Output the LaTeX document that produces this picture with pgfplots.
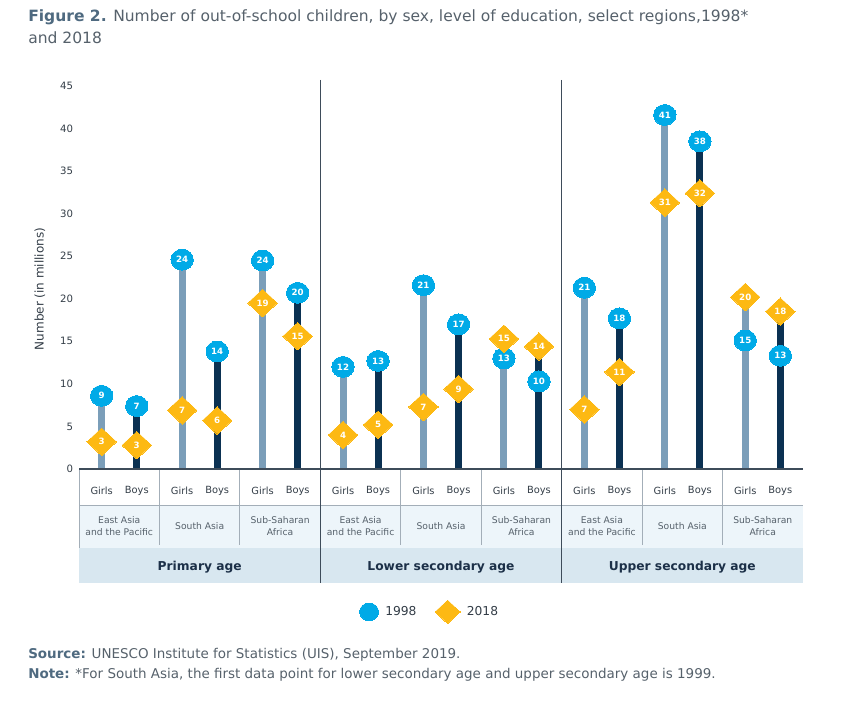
\documentclass[border=0pt]{standalone}
\usepackage{pgfplots}
\usepackage{pgfplotstable}
\pgfplotsset{compat=1.18}
\usepackage{fontspec}
\setmainfont{DejaVu Sans}
\definecolor{girlc}{HTML}{7B9EB9}
\definecolor{boyc}{HTML}{0B3152}
\definecolor{c98}{HTML}{00AAE7}
\definecolor{c18}{HTML}{FDB913}
\definecolor{rowb}{HTML}{EDF5FA}
\definecolor{rowc}{HTML}{D8E7F0}
\definecolor{sepc}{HTML}{3E4C5A}
\definecolor{lightsep}{HTML}{A3AEB8}
\definecolor{titlec}{HTML}{4F6A80}
\definecolor{textc}{HTML}{56616B}
\definecolor{tickc}{HTML}{333D47}
\definecolor{levelc}{HTML}{1C3048}

\pgfplotstableread{
x v98 l98
-0.218 8.6 9
0.218 7.4 7
0.782 24.6 24
1.218 13.8 14
1.782 24.5 24
2.218 20.7 20
2.782 12.0 12
3.218 12.7 13
3.782 21.6 21
4.218 17.0 17
4.782 13.0 13
5.218 10.3 10
5.782 21.3 21
6.218 17.7 18
6.782 41.6 41
7.218 38.5 38
7.782 15.1 15
8.218 13.3 13
}\dataA

\pgfplotstableread{
x v18 l18
-0.218 3.2 3
0.218 2.8 3
0.782 6.9 7
1.218 5.7 6
1.782 19.5 19
2.218 15.6 15
2.782 4.0 4
3.218 5.2 5
3.782 7.3 7
4.218 9.4 9
4.782 15.3 15
5.218 14.4 14
5.782 7.0 7
6.218 11.4 11
6.782 31.3 31
7.218 32.4 32
7.782 20.2 20
8.218 18.5 18
}\dataB

\pgfplotstableread{
x top
-0.218 8.6
0.782 24.6
1.782 24.5
2.782 12.0
3.782 21.6
4.782 15.3
5.782 21.3
6.782 41.6
7.782 20.2
}\girlstems

\pgfplotstableread{
x top
0.218 7.4
1.218 13.8
2.218 20.7
3.218 12.7
4.218 17.0
5.218 14.4
6.218 17.7
7.218 38.5
8.218 18.5
}\boystems

\begin{document}
\begin{tikzpicture}[x=0.75pt,y=0.75pt]
\path[use as bounding box] (0,0) rectangle (863,719);
% table backgrounds
\fill[rowb] (79,214) rectangle (803,171);
\fill[rowc] (79,171) rectangle (803,136);

\begin{axis}[
  at={(59.25pt,187.5pt)}, anchor=south west,
  scale only axis, width=543pt, height=287.25pt,
  xmin=-0.5, xmax=8.5, ymin=0, ymax=45,
  clip=false,
  axis line style={draw=none},
  ytick={0,5,...,45},
  ytick style={draw=none},
  xtick={-0.218,0.218,0.782,1.218,1.782,2.218,2.782,3.218,3.782,4.218,4.782,5.218,5.782,6.218,6.782,7.218,7.782,8.218},
  xticklabels={Girls,Boys,Girls,Boys,Girls,Boys,Girls,Boys,Girls,Boys,Girls,Boys,Girls,Boys,Girls,Boys,Girls,Boys},
  xtick style={draw=none},
  xticklabel style={anchor=center, yshift=-16.5pt, font=\fontsize{7.4}{9}\selectfont, text=tickc},
  yticklabel style={font=\fontsize{7.6}{9}\selectfont, text=tickc, xshift=-1pt},
  /pgf/number format/assume math mode=true,
  ylabel={Number (in millions)},
  ylabel style={at={(axis description cs:-0.054,0.47)}, anchor=center, font=\fontsize{9}{11}\selectfont, text=tickc},
  legend style={at={(0.485,-0.373)}, anchor=center, draw=none, fill=none,
    legend columns=2, font=\fontsize{9.2}{11}\selectfont, text=tickc,
    legend cell align=left,
    /tikz/every odd column/.append style={column sep=3pt},
    /tikz/every even column/.append style={column sep=12pt}},
  legend image post style={scale=0.85},
]
\addplot[ycomb, draw=girlc, line width=5.25pt, line cap=butt, mark=none, forget plot] table[x=x,y=top] {\girlstems};
\addplot[ycomb, draw=boyc, line width=5.25pt, line cap=butt, mark=none, forget plot] table[x=x,y=top] {\boystems};
\addplot[only marks, draw=c98, fill=c98, mark=*, mark size=8.4pt, mark options={draw=c98, fill=c98, line width=0pt, yscale=0.93},
  point meta=explicit symbolic, nodes near coords, nodes near coords align=center,
  every node near coord/.append style={anchor=center, text=white, font=\fontsize{6.5}{8}\selectfont\bfseries}]
  table[x=x,y=v98,meta=l98] {\dataA};
\addlegendentry{1998}
\addplot[only marks, draw=c18, fill=c18, mark=diamond*, mark size=10.3pt, mark options={draw=c18, fill=c18, line width=0pt, xscale=1.43},
  point meta=explicit symbolic, nodes near coords, nodes near coords align=center,
  every node near coord/.append style={anchor=center, text=white, font=\fontsize{6.5}{8}\selectfont\bfseries}]
  table[x=x,y=v18,meta=l18] {\dataB};
\addlegendentry{2018}
\end{axis}

% table lines
\draw[lightsep, line width=0.75pt] (79,214) -- (803,214);
\draw[lightsep, line width=0.75pt] (79,250) -- (79,171);
\foreach \xx in {159.4,239.9,400.8,481.2,642.1,722.6} {
  \draw[lightsep, line width=0.75pt] (\xx,250) -- (\xx,174);
}
\draw[sepc, line width=0.9pt] (79,250) -- (803,250);
\draw[sepc, line width=0.9pt] (320.3,639) -- (320.3,136);
\draw[sepc, line width=0.9pt] (561.7,639) -- (561.7,136);

% region names
\foreach \k in {0,3,6} {
  \node[align=center, font=\fontsize{6.9}{9}\selectfont, text=textc] at ({79+80.444*(\k+0.5)},193.3) {East Asia\\and the Pacific};
  \node[align=center, font=\fontsize{6.9}{9}\selectfont, text=textc] at ({79+80.444*(\k+1.5)},193.3) {South Asia};
  \node[align=center, font=\fontsize{6.9}{9}\selectfont, text=textc] at ({79+80.444*(\k+2.5)},193.3) {Sub-Saharan\\Africa};
}
% level names
\node[font=\fontsize{9.2}{11}\selectfont\bfseries, text=levelc] at (199.7,152.3) {Primary age};
\node[font=\fontsize{9.2}{11}\selectfont\bfseries, text=levelc] at (441.0,152.3) {Lower secondary age};
\node[font=\fontsize{9.2}{11}\selectfont\bfseries, text=levelc] at (682.3,152.3) {Upper secondary age};

% title
\node[anchor=north west, align=left, inner sep=0pt, font=\fontsize{11.65}{16.5}\selectfont, text=textc] at (28,710)
  {\textcolor{titlec}{\textbf{Figure 2.}} Number of out-of-school children, by sex, level of education, select regions,1998*\\and 2018};

% source and note
\node[anchor=west, inner sep=0pt, font=\fontsize{10.1}{12}\selectfont, text=textc] at (28,64)
  {\textcolor{titlec}{\textbf{Source:}} UNESCO Institute for Statistics (UIS), September 2019.};
\node[anchor=west, inner sep=0pt, font=\fontsize{10.1}{12}\selectfont, text=textc] at (28,44)
  {\textcolor{titlec}{\textbf{Note:}} *For South Asia, the first data point for lower secondary age and upper secondary age is 1999.};
\end{tikzpicture}
\end{document}
